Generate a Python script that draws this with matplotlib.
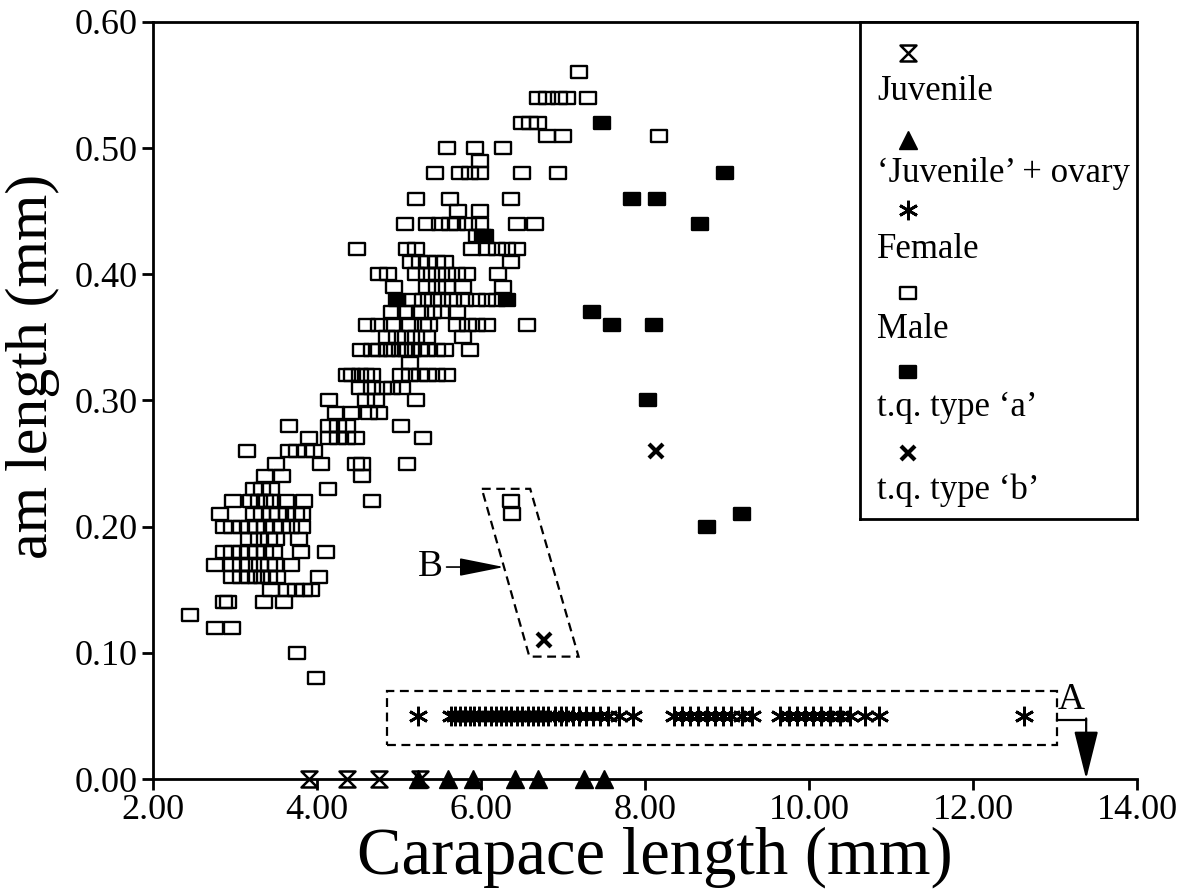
import numpy as np
import matplotlib.pyplot as plt
from matplotlib.path import Path
from matplotlib.patches import Polygon, Rectangle

plt.rcParams['font.family'] = ['Liberation Serif', 'DejaVu Serif']

# ---- data ----
# male: rows of carapace lengths for each am length level
male_levels = [0.56, 0.54, 0.52, 0.51, 0.50, 0.49, 0.48, 0.46, 0.45, 0.44,
               0.43, 0.42, 0.41, 0.40, 0.39, 0.38, 0.37, 0.36, 0.35, 0.34,
               0.33, 0.32, 0.31, 0.30, 0.29, 0.28, 0.27, 0.26, 0.25, 0.24,
               0.23, 0.22, 0.21, 0.20, 0.19, 0.18, 0.17, 0.16, 0.15, 0.14,
               0.13, 0.12, 0.10, 0.08]
male_rows = [
    [7.19],
    [6.70, 6.80, 6.95, 7.05, 7.30],
    [6.50, 6.60, 6.70],
    [6.80, 7.00, 8.17],
    [5.58, 5.93, 6.27],
    [5.99],
    [5.44, 5.74, 5.86, 5.99, 6.50, 6.94],
    [5.21, 5.62, 6.36],
    [5.72, 5.99],
    [5.07, 5.34, 5.50, 5.62, 5.71, 5.84, 5.99, 6.44, 6.66],
    [5.95, 6.05],
    [4.49, 5.10, 5.21, 5.89, 6.07, 6.20, 6.32, 6.44],
    [5.15, 5.25, 5.35, 5.46, 5.56, 6.36],
    [4.76, 4.86, 5.21, 5.34, 5.46, 5.58, 5.71, 5.83, 6.21],
    [4.94, 5.34, 5.46, 5.58, 5.78, 6.27],
    [5.17, 5.29, 5.41, 5.53, 5.66, 5.80, 5.95, 6.07, 6.20],
    [4.92, 5.09, 5.25, 5.41, 5.53, 5.71],
    [4.61, 4.76, 4.92, 5.13, 5.29, 5.37, 5.71, 5.84, 5.95, 6.07, 6.56],
    [4.85, 4.97, 5.09, 5.21, 5.34, 5.78],
    [4.54, 4.67, 4.76, 4.85, 4.92, 5.01, 5.09, 5.17, 5.25, 5.34, 5.46, 5.56, 5.87],
    [5.13],
    [4.36, 4.43, 4.52, 4.60, 4.67, 5.03, 5.13, 5.25, 5.35, 5.46, 5.58],
    [4.52, 4.67, 4.80, 4.92, 5.04],
    [4.15, 4.60, 4.72, 5.21],
    [4.23, 4.42, 4.64, 4.76],
    [3.66, 4.15, 4.25, 4.36, 5.03],
    [3.90, 4.15, 4.25, 4.36, 4.48, 5.29],
    [3.15, 3.66, 3.75, 3.86, 3.96],
    [3.50, 4.05, 4.48, 4.55, 5.10],
    [3.37, 3.57, 4.55],
    [3.23, 3.33, 3.44, 4.13],
    [2.98, 3.20, 3.29, 3.37, 3.45, 3.62, 3.84, 4.67, 6.36],
    [2.82, 3.23, 3.33, 3.44, 3.53, 3.63, 3.74, 3.82, 6.38],
    [2.86, 2.96, 3.07, 3.17, 3.26, 3.37, 3.47, 3.57, 3.68, 3.82],
    [3.17, 3.29, 3.41, 3.50, 3.78],
    [2.86, 2.96, 3.07, 3.17, 3.26, 3.37, 3.47, 3.80, 4.11],
    [2.76, 2.96, 3.07, 3.17, 3.31, 3.41, 3.50, 3.68],
    [2.96, 3.07, 3.17, 3.25, 3.33, 3.41, 3.51, 4.02],
    [3.44, 3.63, 3.74, 3.84, 3.93],
    [2.86, 2.92, 3.35, 3.60],
    [2.45],
    [2.76, 2.96],
    [3.75],
    [3.99],
]

tqa_x = [7.48, 8.97, 7.84, 8.15, 8.67, 6.02, 4.98, 6.32, 7.35, 7.60, 8.11, 8.04, 9.18, 8.75]
tqa_y = [0.52, 0.48, 0.46, 0.46, 0.44, 0.43, 0.38, 0.38, 0.37, 0.36, 0.36, 0.30, 0.21, 0.20]

tqb_x = [8.13, 6.77]
tqb_y = [0.26, 0.11]

juv_x = [3.90, 4.37, 4.76, 5.25]
juv_ovary_x = [5.23, 5.60, 5.90, 6.42, 6.70, 7.26, 7.50]

female_x = [5.23, 5.63, 5.68, 5.74, 5.80, 5.86, 5.92, 5.98, 6.05, 6.12, 6.18,
            6.24, 6.30, 6.37, 6.44, 6.50, 6.57, 6.63, 6.70, 6.76, 6.82, 6.90,
            6.97, 7.04, 7.12, 7.20, 7.28, 7.36, 7.45, 7.55, 7.68, 7.85,
            8.35, 8.45, 8.55, 8.65, 8.75, 8.85, 8.95, 9.05, 9.18, 9.30,
            9.65, 9.75, 9.85, 9.95, 10.05, 10.15, 10.25, 10.38, 10.50, 10.68, 10.85,
            12.62]
female_am = 0.05

xticks = [2, 4, 6, 8, 10, 12, 14]
yticks = [0.0, 0.1, 0.2, 0.3, 0.4, 0.5, 0.6]

legend_labels = ['Juvenile', '\u2018Juvenile\u2019 + ovary', 'Female', 'Male',
                 't.q. type \u2018a\u2019', 't.q. type \u2018b\u2019']

# ---- marker shapes ----
RECT = Path([(-1, -0.8), (1, -0.8), (1, 0.8), (-1, 0.8), (-1, -0.8)],
            [Path.MOVETO, Path.LINETO, Path.LINETO, Path.LINETO, Path.CLOSEPOLY])
HOURGLASS = Path([(-1, 1), (1, 1), (-1, -1), (1, -1), (-1, 1)],
                 [Path.MOVETO, Path.LINETO, Path.LINETO, Path.LINETO, Path.CLOSEPOLY])

STY = {
    'juv': dict(marker=HOURGLASS, ms=11.5, mfc='white', mec='black', mew=1.8, ls='none'),
    'ovary': dict(marker='^', ms=13, mfc='black', mec='black', mew=1, ls='none'),
    'female': dict(marker=(6, 2, 0), ms=14, mec='black', mew=2, ls='none'),
    'male': dict(marker=RECT, ms=11.5, mfc='none', mec='black', mew=1.7, ls='none'),
    'tqa': dict(marker=RECT, ms=11.5, mfc='black', mec='black', mew=1.7, ls='none'),
    'tqb': dict(marker='x', ms=10, mec='black', mew=3, ls='none'),
}

male_x = [x for row in male_rows for x in row]
male_y = [y for y, row in zip(male_levels, male_rows) for _ in row]

fig = plt.figure(figsize=(11.82, 8.94), dpi=100)
ax = fig.add_axes([153 / 1182, 1 - 779 / 894, 984 / 1182, 757 / 894])

ax.plot(male_x, male_y, **STY['male'])
ax.plot(tqa_x, tqa_y, **STY['tqa'])
ax.plot(tqb_x, tqb_y, **STY['tqb'])
ax.plot(female_x, [female_am] * len(female_x), **STY['female'])
ax.plot(juv_x, [0] * len(juv_x), clip_on=False, zorder=5, **STY['juv'])
ax.plot(juv_ovary_x, [0] * len(juv_ovary_x), clip_on=False, zorder=5, **STY['ovary'])

ax.set_xlim(2, 14)
ax.set_ylim(0, 0.6)
ax.set_xticks(xticks)
ax.set_xticklabels(['%.2f' % v for v in xticks])
ax.set_yticks(yticks)
ax.set_yticklabels(['%.2f' % v for v in yticks])
ax.tick_params(direction='out', length=8, width=2, labelsize=26, pad=3)
for side in ['left', 'bottom', 'top']:
    ax.spines[side].set_linewidth(2)
ax.spines['right'].set_visible(False)
ax.set_xlabel('Carapace length (mm)', fontsize=48)
ax.set_ylabel('am length (mm)', fontsize=43)
ax.xaxis.set_label_coords(0.51, -0.062)
ax.yaxis.set_label_coords(-0.095, 0.545)

# dashed box A around the females and its arrow
ax.add_patch(Rectangle((4.85, 0.027), 13.02 - 4.85, 0.043, fill=False,
                       ls=(0, (4, 2.5)), lw=1.6, clip_on=False))
ax.plot([13.02, 13.38], [0.047, 0.047], color='black', lw=1.6, clip_on=False)
ax.annotate('', xy=(13.38, 0.0), xytext=(13.38, 0.048), annotation_clip=False,
            arrowprops=dict(arrowstyle='-|>,head_length=1.0,head_width=0.25',
                            mutation_scale=30, color='black', lw=1.6,
                            shrinkA=0, shrinkB=0))
ax.text(13.2, 0.049, 'A', fontsize=27, ha='center', va='bottom')

# dashed box B
ax.add_patch(Polygon([(6.01, 0.230), (6.60, 0.230), (7.19, 0.097), (6.59, 0.097)],
                     closed=True, fill=False, ls=(0, (4, 2.5)), lw=1.6))
ax.annotate('', xy=(6.28, 0.168), xytext=(5.58, 0.168),
            arrowprops=dict(arrowstyle='-|>,head_length=1.0,head_width=0.2',
                            mutation_scale=28, color='black', lw=1.2,
                            shrinkA=0, shrinkB=0))
ax.text(5.38, 0.168, 'B', fontsize=27, ha='center', va='center')

# legend: marker on one line, its label on the next
lax = fig.add_axes([860 / 1182, 1 - 519 / 894, 277 / 1182, 497 / 894])
lax.set_xlim(0, 277)
lax.set_ylim(497, 0)
lax.set_xticks([])
lax.set_yticks([])
for s in lax.spines.values():
    s.set_linewidth(2)
mk_rows = [31, 118, 188, 271, 350, 431]
lb_rows = [70, 151, 228, 308, 385, 468]
for key, lab, my, ly in zip(['juv', 'ovary', 'female', 'male', 'tqa', 'tqb'],
                            legend_labels, mk_rows, lb_rows):
    lax.plot([48], [my], **STY[key])
    lax.text(17, ly, lab, fontsize=25, va='center', ha='left')

fig.savefig('out.png', dpi=100)
